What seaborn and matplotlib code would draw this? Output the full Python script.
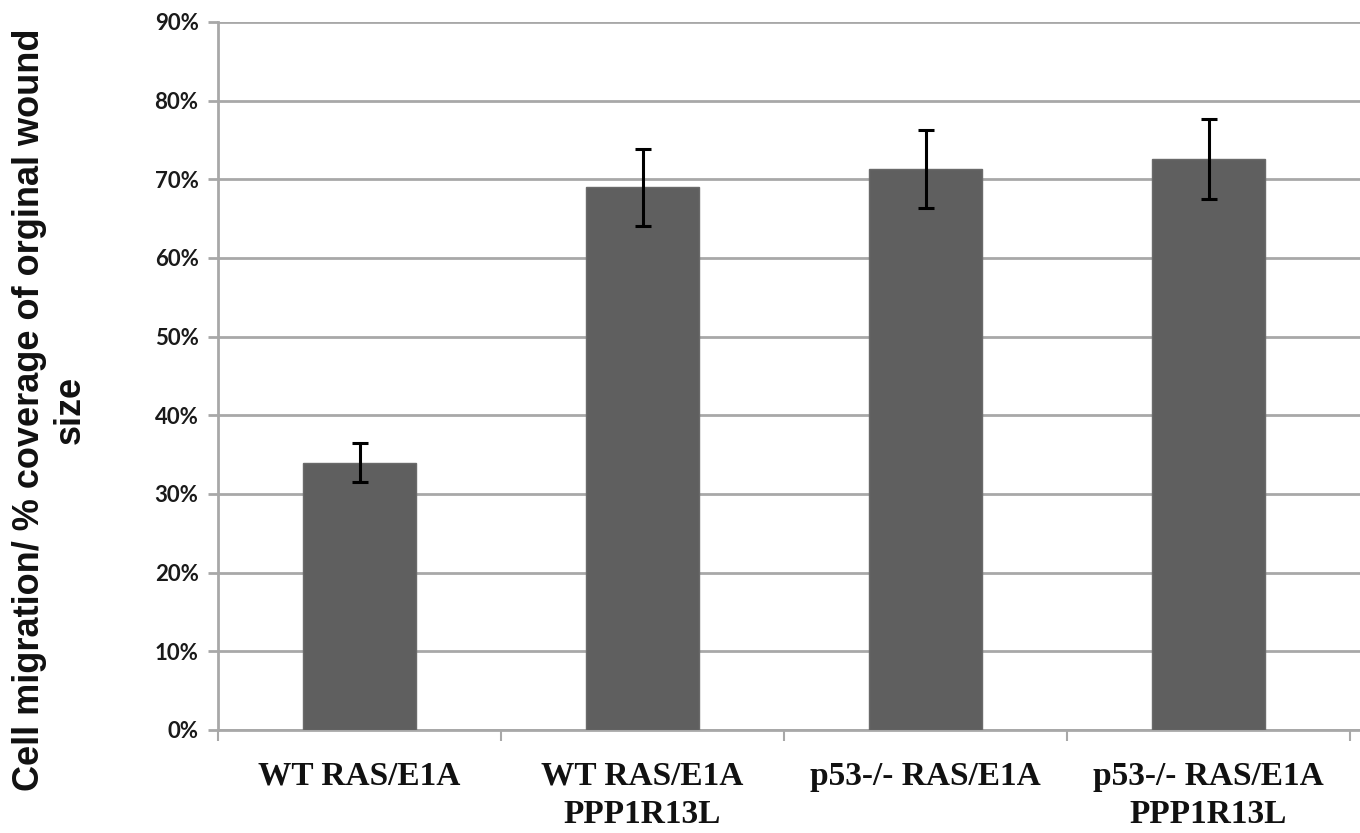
import matplotlib
matplotlib.use("Agg")
import matplotlib.pyplot as plt
from matplotlib.ticker import PercentFormatter, FixedLocator
import seaborn as sns
import pandas as pd

# Wound-healing assay: percentage of the original wound covered by migrating cells
categories = ["WT RAS/E1A", "WT RAS/E1A\nPPP1R13L", "p53-/- RAS/E1A", "p53-/- RAS/E1A\nPPP1R13L"]
coverage = [34.0, 69.0, 71.3, 72.6]
sem = [2.5, 4.9, 5.0, 5.1]

df = pd.DataFrame({"group": categories, "coverage": coverage})

sns.set_theme(style="white")
plt.rcParams["font.family"] = ["Liberation Sans", "DejaVu Sans"]

fig = plt.figure(figsize=(13.6, 8.33), dpi=100)
ax = fig.add_axes([218 / 1360, 1 - 730 / 833, 1 - 218 / 1360, (730 - 22) / 833])

sns.barplot(data=df, x="group", y="coverage", color="#5f5f5f", saturation=1,
            width=0.4, errorbar=None, ax=ax, zorder=3,
            edgecolor="#6a6a6a", linewidth=1)
ax.errorbar(x=list(range(len(categories))), y=coverage, yerr=sem, fmt="none",
            ecolor="black", elinewidth=2.2, capsize=6, capthick=2.2, zorder=4)

ax.set_ylim(0, 90)
ax.set_xlim(-0.5, 3.535)
ax.yaxis.set_major_locator(FixedLocator(range(0, 91, 10)))
ax.yaxis.set_major_formatter(PercentFormatter(xmax=100, decimals=0))
ax.grid(axis="y", color="#a8a8a8", linewidth=2, zorder=0)
ax.set_axisbelow(True)

for side in ("top", "right"):
    ax.spines[side].set_visible(False)
for side in ("left", "bottom"):
    ax.spines[side].set_color("#a8a8a8")
    ax.spines[side].set_linewidth(2)

ax.tick_params(axis="y", which="major", length=7, width=2, color="#a8a8a8",
               left=True, pad=7)
for lbl in ax.get_yticklabels():
    lbl.set_fontfamily(["Lato", "DejaVu Sans"])
    lbl.set_fontweight("bold")
    lbl.set_fontsize(16)
    lbl.set_color("#1a1a1a")

# category separators on the x axis
ax.set_xticks([-0.5, 0.5, 1.5, 2.5, 3.5], minor=True)
ax.tick_params(axis="x", which="minor", length=8, width=1.5, color="#a8a8a8", bottom=True)
ax.tick_params(axis="x", which="major", length=0, pad=22)
ax.set_xticks(range(len(categories)))
ax.set_xticklabels(categories, fontfamily=["Liberation Serif", "DejaVu Serif"],
                   fontweight="bold", fontsize=24, linespacing=1.3, color="#111111")
ax.set_xlabel("")
ax.set_ylabel("")

fig.text(50 / 1360, 1 - 410 / 833,
         "Cell migration/ % coverage of orginal wound\nsize",
         rotation=90, ha="center", va="center", multialignment="center",
         fontsize=26, fontweight="bold", linespacing=1.2, color="#111111")

fig.savefig("out.png", dpi=100)
